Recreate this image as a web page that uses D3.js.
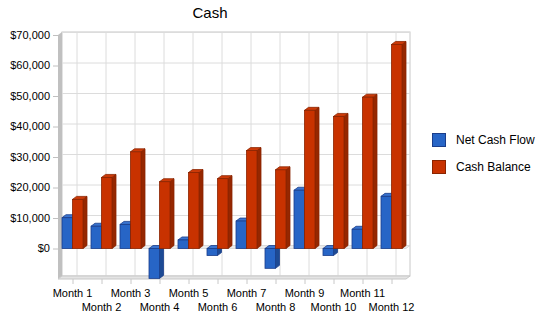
<!DOCTYPE html>
<html>
<head>
<meta charset="utf-8">
<script src="https://cdn.jsdelivr.net/npm/d3@7"></script>
<style>
  body { margin: 0; background: #fff; }
  svg { display: block; font-family: 'Liberation Sans', Arial, sans-serif; }
</style>
</head>
<body>
<svg id="chart" width="550" height="318"></svg>
<script>
// chart data
const months = ['Month 1', 'Month 2', 'Month 3', 'Month 4', 'Month 5', 'Month 6',
  'Month 7', 'Month 8', 'Month 9', 'Month 10', 'Month 11', 'Month 12'];
const netCashFlow = [10100, 7300, 7900, -9800, 2800, -2300, 9000, -6500, 19100, -2300, 6300, 17100];
const cashBalance = [16100, 23300, 31700, 21900, 24900, 22900, 32100, 25800, 45300, 43300, 49600, 66900];
const yTicks = [0, 10000, 20000, 30000, 40000, 50000, 60000, 70000];
const seriesNames = ['Net Cash Flow', 'Cash Balance'];

const svg = d3.select('#chart');
const plotLeft = 58, plotRight = 406, plotTop = 35, plotBottom = 279;
const dx = 4, dy = -3; // 3d depth

const colors = [
  { front: '#2765c6', side: '#1d4a94', top: '#3a74cf', stroke: '#1a3d8a' },
  { front: '#c83200', side: '#962700', top: '#cc3a08', stroke: '#8a2400' }
];

const x = d3.scaleBand().domain(months).range([plotLeft, plotRight]);
const y = d3.scaleLinear().domain([-10000, 70000]).range([plotBottom, plotTop]);
const barW = 10.5;

// title
svg.append('text')
  .attr('x', 210).attr('y', 18)
  .attr('text-anchor', 'middle')
  .attr('font-size', 15)
  .text('Cash');

// back wall
svg.append('rect')
  .attr('x', plotLeft + dx).attr('y', plotTop + dy)
  .attr('width', plotRight - plotLeft).attr('height', plotBottom - plotTop)
  .attr('fill', '#fff').attr('stroke', '#c8c8c8');

// gridlines on back wall
svg.append('g').selectAll('line').data(yTicks.concat([-10000])).join('line')
  .attr('x1', plotLeft + dx).attr('x2', plotRight + dx)
  .attr('y1', d => y(d) + dy + 0.5).attr('y2', d => y(d) + dy + 0.5)
  .attr('stroke', '#dcdcdc');
svg.append('g').selectAll('line').data(months).join('line')
  .attr('x1', d => x(d) + x.bandwidth() / 2 + dx + 0.5)
  .attr('x2', d => x(d) + x.bandwidth() / 2 + dx + 0.5)
  .attr('y1', plotTop + dy).attr('y2', plotBottom + dy)
  .attr('stroke', '#dcdcdc');

// left wall
svg.append('path')
  .attr('d', `M${plotLeft},${plotTop}L${plotLeft + dx},${plotTop + dy}L${plotLeft + dx},${plotBottom + dy}L${plotLeft},${plotBottom}Z`)
  .attr('fill', '#c0c0c0');

// floor
svg.append('path')
  .attr('d', `M${plotLeft},${plotBottom}L${plotLeft + dx},${plotBottom + dy}L${plotRight + dx},${plotBottom + dy}L${plotRight},${plotBottom}Z`)
  .attr('fill', '#e4e4e4').attr('stroke', '#c8c8c8');

// zero plane
const z = y(0);
svg.append('path')
  .attr('d', `M${plotLeft + dx},${z + dy}L${plotRight + dx},${z + dy}L${plotRight},${z}L${plotLeft + dx},${z}Z`)
  .attr('fill', '#ececec').attr('stroke', '#d4d4d4').attr('stroke-width', 0.8);

// y axis labels and ticks
const yAxis = svg.append('g');
yAxis.selectAll('text').data(yTicks).join('text')
  .attr('x', 50).attr('y', d => y(d))
  .attr('dy', '0.35em')
  .attr('text-anchor', 'end')
  .attr('font-size', 11)
  .text(d => d3.format('$,')(d));
yAxis.selectAll('line').data(yTicks).join('line')
  .attr('x1', 53).attr('x2', plotLeft)
  .attr('y1', d => y(d) + 0.5).attr('y2', d => y(d) + 0.5)
  .attr('stroke', '#c0c0c0');

// x axis ticks and labels
const xAxis = svg.append('g');
xAxis.selectAll('line').data(months).join('line')
  .attr('x1', d => x(d) + x.bandwidth() / 2 + 0.5)
  .attr('x2', d => x(d) + x.bandwidth() / 2 + 0.5)
  .attr('y1', plotBottom).attr('y2', plotBottom + 5)
  .attr('stroke', '#c8c8c8');
xAxis.selectAll('text').data(months).join('text')
  .attr('x', d => x(d) + x.bandwidth() / 2)
  .attr('y', (d, i) => (i % 2 === 0 ? 297 : 311))
  .attr('text-anchor', 'middle')
  .attr('font-size', 11)
  .text(d => d);

// bars
const bars = svg.append('g');
months.forEach((m, i) => {
  const cx = x(m) + x.bandwidth() / 2;
  [netCashFlow[i], cashBalance[i]].forEach((v, s) => {
    const c = colors[s];
    const bx = cx - barW + s * barW;
    const y0 = y(Math.max(v, 0));
    const y1 = y(Math.min(v, 0));
    const g = bars.append('g').attr('stroke', c.stroke).attr('stroke-width', 0.8);
    g.append('path')
      .attr('d', `M${bx + barW},${y0}L${bx + barW + dx},${y0 + dy}L${bx + barW + dx},${y1 + dy}L${bx + barW},${y1}Z`)
      .attr('fill', c.side);
    g.append('path')
      .attr('d', `M${bx},${y0}L${bx + dx},${y0 + dy}L${bx + barW + dx},${y0 + dy}L${bx + barW},${y0}Z`)
      .attr('fill', c.top);
    g.append('rect')
      .attr('x', bx).attr('y', y0)
      .attr('width', barW).attr('height', y1 - y0)
      .attr('fill', c.front);
  });
});

// legend
const legend = svg.append('g').attr('transform', 'translate(432,133)');
seriesNames.forEach((name, i) => {
  legend.append('rect')
    .attr('x', 0.5).attr('y', i * 27 + 0.5)
    .attr('width', 13).attr('height', 13)
    .attr('fill', colors[i].front).attr('stroke', colors[i].stroke);
  legend.append('text')
    .attr('x', 24).attr('y', i * 27 + 7)
    .attr('dy', '0.35em')
    .attr('font-size', 12)
    .text(name);
});
</script>
</body>
</html>
